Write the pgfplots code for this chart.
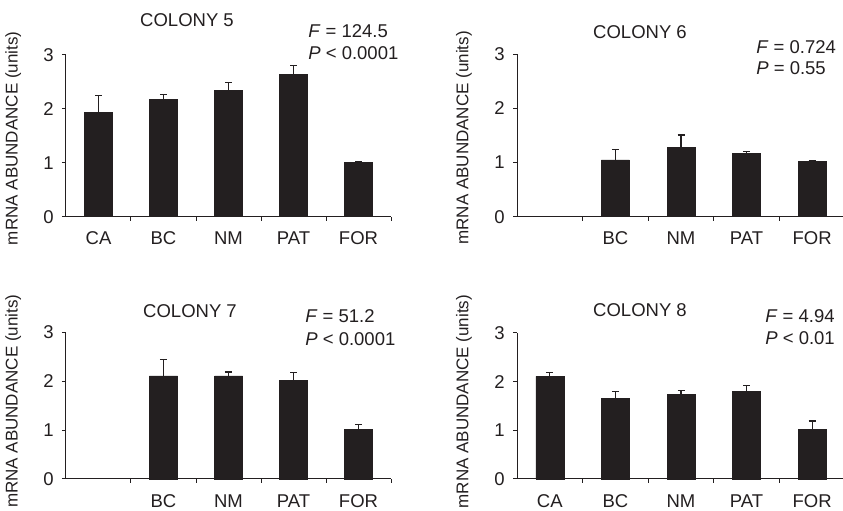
\documentclass[border=0pt]{standalone}
\usepackage{fontspec}
\setmainfont{Liberation Sans}
\usepackage{pgfplots}
\pgfplotsset{compat=1.18}
\definecolor{ink}{HTML}{231F20}
\pgfplotsset{
 colony/.style={
  scale only axis, anchor=south west,
  xmin=-0.5, xmax=4.5, ymin=0, ymax=3,
  axis x line*=bottom, axis y line*=left,
  axis line style={ink, line width=1pt},
  xtick={0,1,2,3,4},
  minor xtick={0.5,1.5,2.5,3.5,4.5},
  major x tick style={draw=none},
  minor tick length=4pt, major tick length=4pt,
  tick align=outside,
  tick style={ink, line width=1pt},
  ytick={0,1,2,3},
  yticklabel style={xshift=-2pt},
  xticklabel style={yshift=-5pt},
  tick label style={font=\fontsize{18.5}{22}\selectfont, text=ink},
  /pgf/number format/assume math mode=true,
  ylabel={mRNA ABUNDANCE (units)},
  every axis y label/.style={at={(axis description cs:-0.162,0.485)}, rotate=90, anchor=center, font=\fontsize{17}{20}\selectfont, text=ink},
  ybar, bar width=28pt,
  clip=false,
 },
 lowlabel/.style={ylabel style={at={(axis description cs:-0.162,0.53)}}},
 bars/.style={fill=ink, draw=ink, line width=0.5pt,
   error bars/.cd, y dir=plus, y explicit,
   error bar style={ink, line width=1.2pt},
   error mark options={rotate=90, mark size=3.5pt, line width=1.2pt, ink}},
}
\begin{document}
\fontsize{18.5}{22}\selectfont
\begin{tikzpicture}
\useasboundingbox (0,0) rectangle (843pt,511pt);
% Colony 5
\begin{axis}[colony, at={(66pt,294.3pt)}, width=325pt, height=161.7pt,
  xticklabels={CA,BC,NM,PAT,FOR}]
\addplot[bars] coordinates {(0,1.94) +- (0,0.31) (1,2.18) +- (0,0.08) (2,2.35) +- (0,0.14) (3,2.64) +- (0,0.16) (4,1.01) +- (0,0.02)};
\end{axis}
% Colony 6
\begin{axis}[colony, at={(517pt,294.3pt)}, width=328pt, height=162.5pt,
  xticklabels={,BC,NM,PAT,FOR}]
\addplot[bars] coordinates {(1,1.05) +- (0,0.19) (2,1.28) +- (0,0.23) (3,1.17) +- (0,0.04) (4,1.02) +- (0,0.01)};
\end{axis}
% Colony 7
\begin{axis}[colony, lowlabel, at={(66pt,32pt)}, width=325pt, height=146.7pt,
  xticklabels={,BC,NM,PAT,FOR}]
\addplot[bars] coordinates {(1,2.11) +- (0,0.34) (2,2.11) +- (0,0.08) (3,2.01) +- (0,0.16) (4,1.01) +- (0,0.11)};
\end{axis}
% Colony 8
\begin{axis}[colony, lowlabel, at={(517pt,32pt)}, width=328pt, height=146pt,
  xticklabels={CA,BC,NM,PAT,FOR}]
\addplot[bars] coordinates {(0,2.11) +- (0,0.08) (1,1.65) +- (0,0.15) (2,1.74) +- (0,0.08) (3,1.80) +- (0,0.12) (4,1.02) +- (0,0.17)};
\end{axis}
\node[text=ink] at (187pt,491pt) {COLONY 5};
\node[text=ink] at (640pt,479pt) {COLONY 6};
\node[text=ink] at (190pt,200pt) {COLONY 7};
\node[text=ink] at (640pt,201pt) {COLONY 8};
\node[text=ink, anchor=west] at (302pt,480pt) {\textit{F} = 124.5};
\node[text=ink, anchor=west] at (302pt,458pt) {\textit{P} < 0.0001};
\node[text=ink, anchor=west] at (750pt,464pt) {\textit{F} = 0.724};
\node[text=ink, anchor=west] at (750pt,443pt) {\textit{P} = 0.55};
\node[text=ink, anchor=west] at (299pt,195pt) {\textit{F} = 51.2};
\node[text=ink, anchor=west] at (299pt,172pt) {\textit{P} < 0.0001};
\node[text=ink, anchor=west] at (759pt,195pt) {\textit{F} = 4.94};
\node[text=ink, anchor=west] at (759pt,173pt) {\textit{P} < 0.01};
\end{tikzpicture}
\end{document}
